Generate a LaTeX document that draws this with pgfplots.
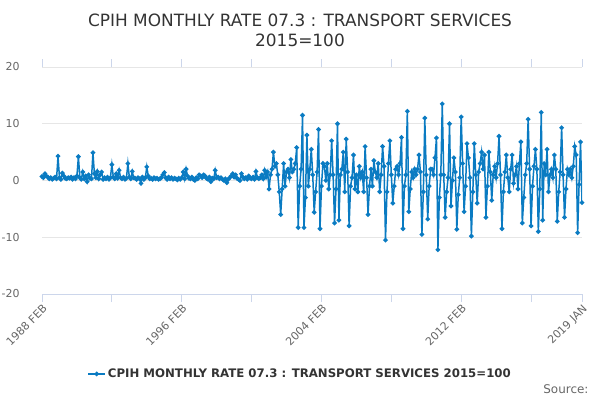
\documentclass[border=0pt]{standalone}
\usepackage{fontspec}
\setmainfont{DejaVu Sans}
\usepackage{pgfplots}
\pgfplotsset{compat=1.18}
\definecolor{series}{HTML}{0A7BC2}
\definecolor{gridcol}{HTML}{E6E6E6}
\definecolor{axiscol}{HTML}{CCD6EB}
\definecolor{labelcol}{HTML}{666666}
\definecolor{titlecol}{HTML}{333333}
\begin{document}
\begin{tikzpicture}
\useasboundingbox (0bp,0bp) rectangle (600bp,-400bp);
\node[font=\fontsize{17}{20}\selectfont, text=titlecol, align=center] at (300bp,-30bp) {CPIH MONTHLY RATE 07.3 : TRANSPORT SERVICES\\2015=100};
\begin{axis}[
  at={(42bp,-294bp)}, anchor=south west,
  scale only axis, width=540bp, height=227bp,
  xmin=0, xmax=371, ymin=-20, ymax=20,
  ytick={-20,-10,0,10,20},
  ymajorgrids, grid style={color=gridcol, line width=0.8bp},
  axis line style={draw=none},
  xtick={0,96,192,288,371},
  xticklabels={1988 FEB,1996 FEB,2004 FEB,2012 FEB,2019 JAN},
  extra x ticks={48,144,240,336},
  extra x tick labels={},
  extra x tick style={grid=none},
  tick align=outside,
  major tick length=8bp,
  x tick style={color=axiscol, line width=0.8bp},
  y tick style={draw=none},
  /pgf/number format/assume math mode=true,
  xticklabel style={rotate=45, anchor=north east, font=\fontsize{11}{13}\selectfont, text=labelcol, inner sep=1bp},
  yticklabel style={font=\fontsize{11}{13}\selectfont, text=labelcol, xshift=-11bp},
  legend style={at={(0.478,-0.352)}, anchor=center, draw=none, fill=none,
     font=\bfseries\fontsize{11.8}{14}\selectfont, text=titlecol},
  legend cell align=left,
]
\draw[axiscol, line width=0.8bp] (axis cs:0,-20) -- (axis cs:371,-20);
\addplot[color=series, line width=1.5bp, mark=*, mark size=1.5bp, mark options={fill=series}]
 table[row sep=\\, header=false, x expr=\coordindex, y index=0]{
0.7\\0.5\\1.2\\0.8\\0.6\\0.3\\0.5\\0.2\\0.4\\0.6\\
0.3\\4.3\\0.5\\0.2\\1.3\\0.8\\0.4\\0.3\\0.5\\0.4\\
0.6\\0.2\\0.5\\0.3\\0.8\\4.2\\0.5\\0.2\\1.5\\0.3\\
0.8\\-0.2\\1.0\\0.4\\0.3\\4.9\\1.2\\0.5\\1.6\\0.3\\
1.0\\1.5\\0.2\\0.5\\0.3\\0.6\\0.2\\0.5\\2.8\\0.6\\
0.3\\1.2\\0.4\\1.8\\0.5\\0.3\\0.6\\0.2\\0.4\\3.0\\
0.6\\0.3\\1.6\\0.5\\0.4\\0.2\\0.5\\0.3\\-0.5\\0.6\\
0.2\\0.5\\2.4\\0.8\\0.3\\0.4\\0.2\\0.5\\0.3\\0.4\\
0.2\\0.3\\0.5\\1.0\\1.4\\0.5\\0.2\\0.6\\0.3\\0.5\\
0.2\\0.4\\0.3\\0.1\\0.4\\0.2\\0.5\\1.5\\0.3\\2.0\\
0.8\\0.4\\0.3\\0.6\\0.2\\0.0\\0.5\\0.3\\1.0\\0.8\\
0.5\\1.0\\0.8\\0.4\\0.2\\0.6\\-0.2\\0.4\\0.3\\1.8\\
0.5\\0.6\\0.3\\0.5\\0.2\\0.0\\0.3\\-0.4\\0.2\\0.5\\
0.8\\1.2\\0.6\\1.0\\0.4\\0.2\\0.0\\1.2\\0.6\\0.3\\
0.5\\0.2\\0.8\\0.4\\0.3\\0.6\\0.2\\1.6\\0.5\\0.3\\
0.5\\1.0\\0.3\\1.8\\0.6\\1.5\\-1.5\\1.0\\2.0\\5.0\\
2.5\\3.0\\1.0\\-2.0\\-6.0\\-1.5\\3.0\\-1.0\\1.5\\2.0\\
0.5\\3.7\\1.5\\2.0\\3.0\\5.8\\-8.3\\-1.0\\2.0\\11.5\\
-8.3\\-3.0\\8.0\\-1.0\\2.0\\5.5\\1.0\\-5.6\\-2.0\\1.5\\
9.0\\-8.5\\-1.0\\3.0\\2.5\\0.0\\3.0\\-1.5\\1.0\\7.0\\
1.0\\-7.5\\-1.5\\10.0\\-7.0\\1.0\\2.0\\5.0\\-2.0\\7.3\\
1.5\\-8.0\\-1.0\\0.5\\4.5\\-1.5\\1.0\\-2.0\\2.5\\0.5\\
1.5\\-2.0\\6.0\\0.5\\-6.0\\-1.0\\2.0\\-1.0\\3.5\\1.5\\
0.5\\3.0\\-2.0\\1.0\\6.0\\2.5\\-10.5\\-2.0\\3.0\\7.0\\
1.0\\-4.0\\-1.0\\2.0\\2.5\\1.0\\3.0\\7.6\\-8.5\\-1.0\\
1.0\\12.2\\-5.5\\-1.5\\1.5\\0.5\\2.0\\1.0\\2.0\\4.5\\
1.5\\-9.5\\-2.0\\11.0\\1.0\\-6.8\\-1.0\\2.0\\2.0\\1.0\\
4.0\\7.5\\-12.2\\-3.0\\1.0\\13.5\\1.0\\-6.5\\-2.0\\0.5\\
10.0\\-4.5\\0.0\\4.0\\1.5\\-8.6\\-2.5\\0.5\\11.2\\3.0\\
-5.5\\-1.0\\6.5\\4.0\\0.5\\-9.8\\-2.0\\6.5\\1.0\\-4.0\\
1.5\\3.0\\5.0\\2.0\\4.5\\-6.5\\-1.0\\5.0\\1.5\\-3.5\\
1.0\\2.5\\0.5\\3.0\\7.8\\1.0\\-8.5\\-2.0\\1.5\\4.5\\
0.5\\-2.0\\2.0\\4.5\\-0.5\\1.0\\2.5\\-1.5\\3.0\\6.8\\
-7.5\\-3.0\\1.0\\3.0\\10.8\\2.0\\-8.0\\-1.0\\2.5\\5.5\\
2.0\\-9.0\\-1.5\\12.0\\-7.0\\3.0\\1.0\\5.5\\-2.0\\1.0\\
2.0\\0.5\\4.5\\2.0\\-7.2\\-2.0\\1.5\\9.3\\1.0\\-6.5\\
-1.5\\2.0\\1.0\\2.0\\0.5\\2.5\\6.0\\4.5\\-9.2\\-0.7\\
6.8\\-3.9\\
};
\addlegendentry{CPIH MONTHLY RATE 07.3 : TRANSPORT SERVICES 2015=100}
\end{axis}
\node[anchor=east, font=\fontsize{12}{14}\selectfont, text=labelcol] at (592bp,-389bp) {Source:};
\end{tikzpicture}
\end{document}
